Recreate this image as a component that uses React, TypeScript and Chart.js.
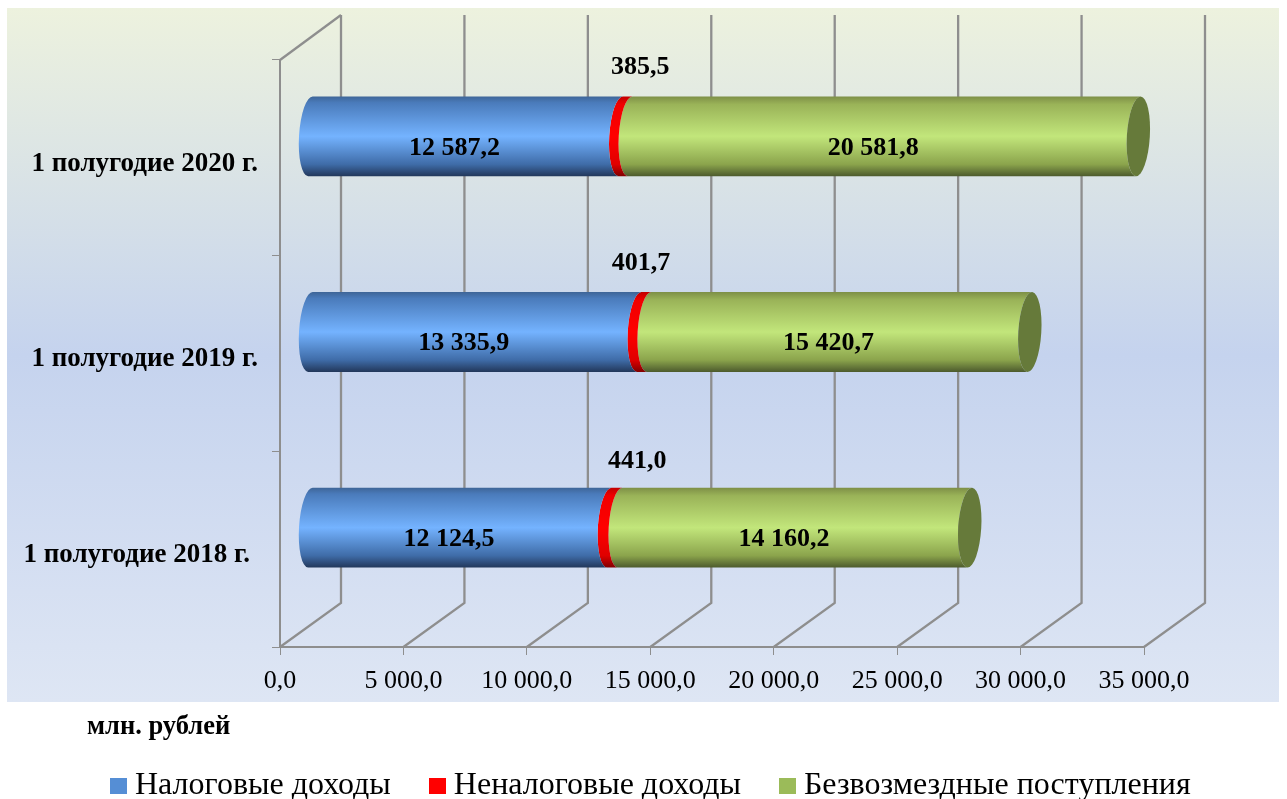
import React, { useEffect, useRef } from "react";
import { Chart, registerables } from "chart.js";

Chart.register(...registerables);

const categories = ["1 полугодие 2020 г.", "1 полугодие 2019 г.", "1 полугодие 2018 г."];
const taxIncome = [12587.2, 13335.9, 12124.5];
const nonTaxIncome = [385.5, 401.7, 441.0];
const grants = [20581.8, 15420.7, 14160.2];
const seriesNames = ["Налоговые доходы", "Неналоговые доходы", "Безвозмездные поступления"];
const legendColors = ["#558ED5", "#FF0000", "#9BBB59"];
const axisTitle = "млн. рублей";

const FONT = '"Liberation Serif", "Times New Roman", serif';
const GRID = "#8E8E8E";
// 3D projection of the floor/back wall relative to the scale plane
const DEPTH = { dx: 61, dy: -44 };
const BAR_SHIFT = { dx: 30, dy: -21.5 };
const ELLIPSE = { rx: 11.5, rot: 0.06 };
const GRADIENTS = [
  [[0, "#3E6597"], [0.08, "#4A7BBB"], [0.5, "#74B3FF"], [0.85, "#3F6CA8"], [1, "#22375A"]],
  [[0, "#C00000"], [0.1, "#F00000"], [0.5, "#FF0000"], [0.85, "#E00000"], [1, "#800000"]],
  [[0, "#7D8F46"], [0.1, "#9AB358"], [0.5, "#C2E67B"], [0.85, "#8BA44C"], [1, "#4C5A2D"]],
] as [number, string][][];
const CAP_COLOR = "#667A3A";
const RED_LABEL_SHIFT = [[40, -91], [22, -90], [47, -88]];
const TICK_LABEL_SHIFT = [[0, 6], [0, 6], [-8, 6]];

const fmt = (v: number) => {
  const [i, d] = v.toFixed(1).split(".");
  return i.replace(/\B(?=(\d{3})+$)/g, " ") + "," + d;
};

const decor = {
  id: "decor",
  afterUpdate(chart: any) {
    const y = chart.scales.y;
    y._computeLabelArea = () => undefined;
    const items = y.getLabelItems(chart.chartArea);
    items.forEach((it: any, i: number) => {
      it.options.translation = [
        it.options.translation[0] + TICK_LABEL_SHIFT[i][0],
        it.options.translation[1] + TICK_LABEL_SHIFT[i][1],
      ];
    });
  },
  beforeDraw(chart: any) {
    const ctx = chart.ctx;
    ctx.save();
    ctx.fillStyle = "#FFFFFF";
    ctx.fillRect(0, 0, chart.width, chart.height);
    const g = ctx.createLinearGradient(0, 8, 0, 702);
    g.addColorStop(0, "#EDF2DE");
    g.addColorStop(0.5, "#C5D3EE");
    g.addColorStop(1, "#DEE6F4");
    ctx.fillStyle = g;
    ctx.fillRect(7, 8, 1272, 694);
    ctx.restore();
  },
  beforeDatasetsDraw(chart: any) {
    const { ctx, chartArea, scales } = chart;
    ctx.save();
    ctx.strokeStyle = GRID;
    ctx.lineWidth = 2.3;
    const ticks = scales.x.ticks;
    ticks.forEach((t: any) => {
      const x = scales.x.getPixelForValue(t.value);
      ctx.beginPath();
      ctx.moveTo(x, chartArea.bottom);
      ctx.lineTo(x + DEPTH.dx, chartArea.bottom + DEPTH.dy);
      ctx.lineTo(x + DEPTH.dx, chartArea.top + DEPTH.dy + -1);
      ctx.stroke();
    });
    ctx.beginPath();
    ctx.moveTo(chartArea.left, chartArea.top);
    ctx.lineTo(chartArea.left + DEPTH.dx, chartArea.top + DEPTH.dy - 1);
    ctx.stroke();
    ctx.restore();
  },
  beforeDatasetDraw(chart: any, args: any) {
    const { ctx } = chart;
    const idx = args.index;
    const last = idx === chart.data.datasets.length - 1;
    args.meta.data.forEach((el: any) => {
      const cy = el.y + BAR_SHIFT.dy;
      const ry = el.height / 2;
      const bx = el.base + BAR_SHIFT.dx;
      const ex = el.x + BAR_SHIFT.dx;
      const g = ctx.createLinearGradient(0, cy - ry, 0, cy + ry);
      GRADIENTS[idx].forEach(([o, c]) => g.addColorStop(o, c));
      ctx.save();
      ctx.fillStyle = g;
      ctx.beginPath();
      ctx.ellipse(bx, cy, ELLIPSE.rx, ry, ELLIPSE.rot, -Math.PI / 2, Math.PI / 2, true);
      ctx.ellipse(ex, cy, ELLIPSE.rx, ry, ELLIPSE.rot, Math.PI / 2, -Math.PI / 2, false);
      ctx.closePath();
      ctx.fill();
      if (last) {
        ctx.fillStyle = CAP_COLOR;
        ctx.beginPath();
        ctx.ellipse(ex, cy, ELLIPSE.rx, ry, ELLIPSE.rot, 0, Math.PI * 2);
        ctx.fill();
      }
      ctx.restore();
    });
    return false;
  },
  afterDatasetsDraw(chart: any) {
    const { ctx } = chart;
    ctx.save();
    ctx.fillStyle = "#000";
    ctx.font = `bold 26px ${FONT}`;
    ctx.textAlign = "center";
    ctx.textBaseline = "middle";
    chart.data.datasets.forEach((ds: any, d: number) => {
      chart.getDatasetMeta(d).data.forEach((el: any, i: number) => {
        const text = fmt(ds.data[i]);
        if (d === 1) {
          ctx.fillText(text, el.x + RED_LABEL_SHIFT[i][0], el.y + RED_LABEL_SHIFT[i][1]);
        } else {
          ctx.fillText(text, (el.x + el.base) / 2 + 19, el.y - 10);
        }
      });
    });
    ctx.textAlign = "left";
    ctx.font = `bold 26.5px ${FONT}`;
    ctx.fillText(axisTitle, 87, 727);
    ctx.restore();
  },
};

export default function App() {
  const ref = useRef<HTMLCanvasElement>(null);
  useEffect(() => {
    const swatches = legendColors.map((c) => {
      const s = document.createElement("canvas");
      s.width = 17;
      s.height = 16;
      const x = s.getContext("2d")!;
      x.fillStyle = c;
      x.fillRect(0, 0, 17, 16);
      return s;
    });
    const chart = new Chart(ref.current!, {
      type: "bar",
      data: {
        labels: categories,
        datasets: [
          { label: seriesNames[0], data: taxIncome, backgroundColor: legendColors[0] },
          { label: seriesNames[1], data: nonTaxIncome, backgroundColor: legendColors[1] },
          { label: seriesNames[2], data: grants, backgroundColor: legendColors[2] },
        ],
      },
      options: {
        indexAxis: "y",
        responsive: false,
        animation: false,
        devicePixelRatio: 1,
        barThickness: 80,
        layout: { padding: { left: 72, right: 0, top: 60, bottom: -13 } },
        scales: {
          x: {
            stacked: true,
            min: 0,
            max: 35000,
            afterFit: (s: any) => {
              s.height = 77;
              s.paddingRight = 143;
            },
            ticks: {
              stepSize: 5000,
              autoSkip: false,
              maxRotation: 0,
              color: "#000",
              font: { family: FONT, size: 26 },
              padding: 11,
              callback: (v: any) => fmt(Number(v)),
            },
            grid: { drawOnChartArea: false, drawTicks: true, tickLength: 8, tickColor: GRID, tickWidth: 1 },
            border: { color: GRID, width: 2 },
          },
          y: {
            stacked: true,
            afterFit: (s: any) => {
              s.width = 208;
            },
            ticks: {
              color: "#000",
              font: { family: FONT, size: 27, weight: "bold" },
              padding: 14,
              autoSkip: false,
            },
            grid: { drawOnChartArea: false, drawTicks: true, tickLength: 8, tickColor: GRID, tickWidth: 1 },
            border: { color: GRID, width: 2 },
          },
        },
        plugins: {
          tooltip: { enabled: false },
          legend: {
            position: "bottom",
            align: "start",
            labels: {
              usePointStyle: true,
              pointStyleWidth: 1,
              padding: 46,
              color: "#000",
              font: { family: FONT, size: 32 },
              generateLabels: (c: any) =>
                c.data.datasets.map((ds: any, i: number) => ({
                  text: ds.label,
                  fillStyle: ds.backgroundColor,
                  strokeStyle: ds.backgroundColor,
                  lineWidth: 0,
                  pointStyle: swatches[i],
                  datasetIndex: i,
                  fontColor: "#000",
                })),
            },
          },
        },
      } as any,
      plugins: [decor as any],
    });
    return () => chart.destroy();
  }, []);
  return (
    <canvas
      ref={ref}
      width={1287}
      height={799}
      style={{ position: "absolute", left: 0, top: 0, width: 1287, height: 799, display: "block" }}
    />
  );
}
